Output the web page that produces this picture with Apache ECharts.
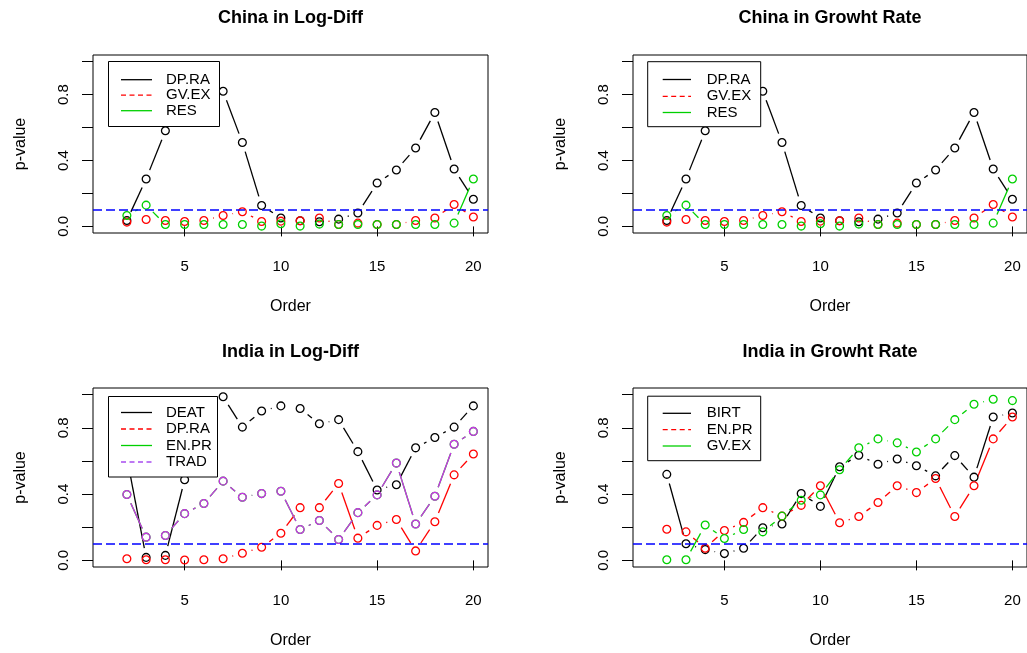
<!DOCTYPE html>
<html><head><meta charset="utf-8">
<script src="https://cdn.jsdelivr.net/npm/echarts@6/dist/echarts.min.js"></script>
<style>html,body{margin:0;padding:0;background:#fff}#c{width:1027px;height:653px}</style>
</head><body><div id="c"></div>
<script>
// ---------------- data ----------------
const order = [2,3,4,5,6,7,8,9,10,11,12,13,14,15,16,17,18,19,20];
const xTicks = [5,10,15,20];
const yTicks = [0,0.2,0.4,0.6,0.8,1.0];
const yLabels = [0,0.4,0.8];
const threshold = 0.1;

// China in Log-Diff
const cldDPRA = [0.036,0.288,0.580,0.870,0.930,0.820,0.509,0.127,0.051,0.034,0.028,0.044,0.081,0.263,0.342,0.476,0.691,0.348,0.165];
const cldGVEX = [0.026,0.042,0.036,0.030,0.036,0.066,0.089,0.030,0.032,0.034,0.051,0.012,0.020,0.012,0.012,0.036,0.051,0.133,0.057];
const cldRES  = [0.066,0.129,0.012,0.012,0.012,0.012,0.012,0.002,0.016,0.002,0.014,0.012,0.012,0.012,0.012,0.012,0.012,0.020,0.288];
// China in Growht Rate
const cgrDPRA = [0.036,0.288,0.580,0.870,0.930,0.820,0.509,0.127,0.051,0.034,0.028,0.044,0.081,0.263,0.342,0.476,0.691,0.348,0.165];
const cgrGVEX = [0.026,0.042,0.036,0.030,0.036,0.066,0.089,0.030,0.032,0.034,0.051,0.012,0.020,0.012,0.012,0.036,0.051,0.133,0.057];
const cgrRES  = [0.066,0.129,0.012,0.012,0.012,0.012,0.012,0.002,0.016,0.002,0.014,0.012,0.012,0.012,0.012,0.012,0.012,0.020,0.288];
// India in Log-Diff
const ildDEAT = [0.620,0.018,0.030,0.486,0.880,0.987,0.804,0.901,0.932,0.916,0.824,0.849,0.656,0.425,0.456,0.679,0.741,0.804,0.932];
const ildDPRA = [0.010,0.004,0.004,0.002,0.004,0.010,0.043,0.079,0.164,0.318,0.318,0.464,0.134,0.211,0.247,0.057,0.233,0.516,0.642];
const ildENPR = [0.397,0.140,0.150,0.282,0.343,0.478,0.381,0.403,0.417,0.186,0.241,0.126,0.288,0.395,0.587,0.219,0.387,0.701,0.778];
const ildTRAD = [0.397,0.140,0.150,0.282,0.343,0.478,0.381,0.403,0.417,0.186,0.241,0.126,0.288,0.395,0.587,0.219,0.387,0.701,0.778];
// India in Growht Rate
const igrBIRT = [0.519,0.100,0.065,0.041,0.073,0.197,0.219,0.403,0.326,0.565,0.634,0.580,0.612,0.571,0.510,0.632,0.502,0.865,0.889];
const igrENPR = [0.188,0.172,0.073,0.180,0.229,0.318,0.267,0.332,0.450,0.227,0.265,0.349,0.450,0.409,0.494,0.265,0.450,0.733,0.865];
const igrGVEX = [0.004,0.004,0.213,0.132,0.186,0.172,0.267,0.363,0.395,0.547,0.679,0.733,0.709,0.654,0.733,0.849,0.942,0.972,0.964];

// ---------------- styles ----------------
const FONT = 'Liberation Sans, Arial, sans-serif';
const BLACK = '#000000', RED = '#FF0000', GREEN = '#00D000', PURPLE = '#CC30EA', PURPLE_LEG = '#A84CF0', BLUE = '#0000FF';
const GAP = 9.5, LW = 1.3, SYM = 7.8;

const panels = [
  { title: 'China in Log-Diff', cx: 290.5, ty: 9, grid: {left: 93, top: 55, width: 395, height: 178},
    series: [ {name:'DP.RA', data: cldDPRA, color: BLACK, leg: BLACK, dash: false},
              {name:'GV.EX', data: cldGVEX, color: RED, leg: RED, dash: true},
              {name:'RES', data: cldRES, color: GREEN, leg: GREEN, dash: false} ],
    legend: {x: 108.5, y: 61.5, w: 111, h: 65, rows: [79.7, 95.2, 110.7], l1: 121, l2: 152, tx: 166} },
  { title: 'China in Growht Rate', cx: 830, ty: 9, grid: {left: 633, top: 55, width: 395, height: 178},
    series: [ {name:'DP.RA', data: cgrDPRA, color: BLACK, leg: BLACK, dash: false},
              {name:'GV.EX', data: cgrGVEX, color: RED, leg: RED, dash: true},
              {name:'RES', data: cgrRES, color: GREEN, leg: GREEN, dash: false} ],
    legend: {x: 647.7, y: 61.7, w: 113, h: 65, rows: [79.5, 96.3, 112.5], l1: 662.7, l2: 691, tx: 706.7} },
  { title: 'India in Log-Diff', cx: 290.5, ty: 343, grid: {left: 93, top: 388, width: 395, height: 179},
    series: [ {name:'DEAT', data: ildDEAT, color: BLACK, leg: BLACK, dash: false},
              {name:'DP.RA', data: ildDPRA, color: RED, leg: RED, dash: true},
              {name:'EN.PR', data: ildENPR, color: GREEN, leg: GREEN, dash: false},
              {name:'TRAD', data: ildTRAD, color: PURPLE, leg: PURPLE_LEG, dash: true} ],
    legend: {x: 108.5, y: 396.5, w: 109, h: 80.5, rows: [412.5, 429, 445.5, 462], l1: 121, l2: 152, tx: 166} },
  { title: 'India in Growht Rate', cx: 830, ty: 343, grid: {left: 633, top: 388, width: 395, height: 179},
    series: [ {name:'BIRT', data: igrBIRT, color: BLACK, leg: BLACK, dash: false},
              {name:'EN.PR', data: igrENPR, color: RED, leg: RED, dash: true},
              {name:'GV.EX', data: igrGVEX, color: GREEN, leg: GREEN, dash: false} ],
    legend: {x: 647.7, y: 396.2, w: 113, h: 64.5, rows: [413.3, 429.7, 446], l1: 662.7, l2: 691, tx: 706.7} }
];

function segRender(color) {
  return function (params, api) {
    const p1 = api.coord([api.value(0), api.value(1)]);
    const p2 = api.coord([api.value(2), api.value(3)]);
    const dx = p2[0] - p1[0], dy = p2[1] - p1[1];
    const d = Math.sqrt(dx * dx + dy * dy);
    if (d <= 2 * GAP + 0.5) return {type: 'group', children: []};
    const ux = dx / d, uy = dy / d;
    return { type: 'line',
      shape: {x1: p1[0] + ux * GAP, y1: p1[1] + uy * GAP, x2: p2[0] - ux * GAP, y2: p2[1] - uy * GAP},
      style: {stroke: color, lineWidth: LW, fill: null} };
  };
}

const grids = [], xAxes = [], yAxes = [], series = [], titles = [], graphics = [];
panels.forEach((p, gi) => {
  grids.push(Object.assign({show: true, borderColor: '#000', borderWidth: 1, backgroundColor: 'transparent', containLabel: false}, p.grid));
  xAxes.push({ type: 'value', gridIndex: gi, min: 0.24, max: 20.76,
    name: 'Order', nameLocation: 'middle', nameGap: 66,
    nameTextStyle: {fontFamily: FONT, fontSize: 16, color: '#000'},
    axisLine: {show: false}, splitLine: {show: false},
    axisTick: {show: true, customValues: xTicks, length: 10, lineStyle: {color: '#000', width: 1}},
    axisLabel: {customValues: xTicks, margin: 26, fontFamily: FONT, fontSize: 15, color: '#000'} });
  yAxes.push({ type: 'value', gridIndex: gi, min: -0.04, max: 1.04,
    name: 'p-value', nameLocation: 'middle', nameGap: 64, nameRotate: 90,
    nameTextStyle: {fontFamily: FONT, fontSize: 16, color: '#000'},
    axisLine: {show: false}, splitLine: {show: false},
    axisTick: {show: true, customValues: yTicks, length: 11, lineStyle: {color: '#000', width: 1}},
    axisLabel: {customValues: yLabels, rotate: 90, margin: 22, fontFamily: FONT, fontSize: 15, color: '#000',
      formatter: v => Number(v).toFixed(1)} });
  titles.push({ text: p.title, left: p.cx, top: p.ty, textAlign: 'center', padding: 0,
    textStyle: {fontFamily: FONT, fontSize: 18, fontWeight: 'bold', color: '#000'} });

  p.series.forEach((s, si) => {
    const segs = [];
    for (let i = 0; i < order.length - 1; i++) segs.push([order[i], s.data[i], order[i + 1], s.data[i + 1]]);
    series.push({ type: 'custom', name: s.name + '-lines', xAxisIndex: gi, yAxisIndex: gi,
      renderItem: segRender(s.color), data: segs, encode: {x: [0, 2], y: [1, 3]}, silent: true, animation: false });
    const pts = order.map((x, i) => [x, s.data[i]]);
    const sc = { type: 'scatter', name: s.name, xAxisIndex: gi, yAxisIndex: gi, data: pts,
      symbol: 'circle', symbolSize: SYM, silent: true, animation: false,
      itemStyle: {color: 'rgba(0,0,0,0)', borderColor: s.color, borderWidth: 1.3, opacity: 1} };
    if (si === p.series.length - 1) {
      sc.markLine = { silent: true, symbol: 'none', animation: false, label: {show: false},
        lineStyle: {color: BLUE, type: [9, 4], width: 1.5},
        data: [{yAxis: threshold}] };
    }
    series.push(sc);
  });

  // legend box (drawn above the marks)
  const L = p.legend;
  graphics.push({ type: 'rect', z: 100, zlevel: 1, shape: {x: L.x, y: L.y, width: L.w, height: L.h},
    style: {fill: '#fff', stroke: '#000', lineWidth: 1} });
  p.series.forEach((s, si) => {
    graphics.push({ type: 'line', z: 101, zlevel: 1, shape: {x1: L.l1, y1: L.rows[si], x2: L.l2, y2: L.rows[si]},
      style: {stroke: s.leg, lineWidth: 1.3, lineDash: s.dash ? [5, 3.5] : null} });
    graphics.push({ type: 'text', z: 101, zlevel: 1, x: L.tx, y: L.rows[si],
      style: {text: s.name, fill: '#000', font: '15px ' + FONT, textAlign: 'left', textVerticalAlign: 'middle'} });
  });
});

const chart = echarts.init(document.getElementById('c'), null, {renderer: 'canvas'});
chart.setOption({
  animation: false,
  backgroundColor: '#fff',
  title: titles,
  grid: grids, xAxis: xAxes, yAxis: yAxes,
  series: series,
  graphic: graphics
});
</script></body></html>
